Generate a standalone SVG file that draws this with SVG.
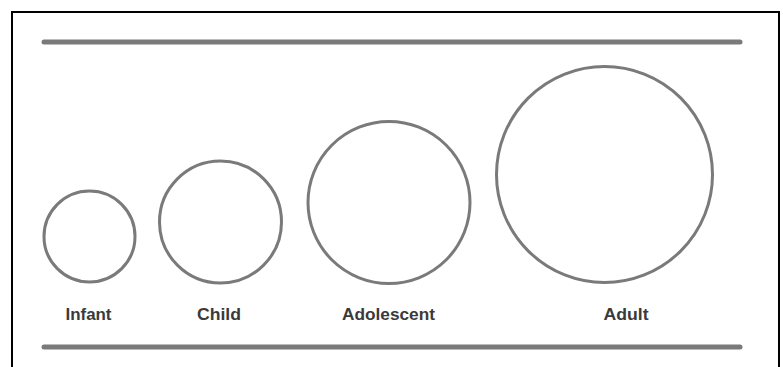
<svg xmlns="http://www.w3.org/2000/svg" width="783" height="367" viewBox="0 0 783 367">
  <style>
    .bar { stroke: #7a7a7a; stroke-width: 5; stroke-linecap: round; }
    .stage { fill: none; stroke: #7a7a7a; stroke-width: 3; }
    .lbl { font-family: "Liberation Sans", Arial, sans-serif; font-size: 17px; fill: #3a3a3a; text-anchor: middle; font-weight: bold; }
  </style>
  <rect x="0" y="0" width="783" height="367" fill="#ffffff"/>
  <rect x="12" y="12" width="767" height="360" fill="#ffffff" stroke="#000000" stroke-width="2"/>
  <g id="rules">
    <line class="bar" x1="44" y1="42" x2="740" y2="42"/>
    <line class="bar" x1="44" y1="347" x2="740" y2="347"/>
  </g>
  <g id="infant">
    <circle class="stage" cx="89.5" cy="236.5" r="45.5"/>
    <text class="lbl" x="88.5" y="320" textLength="46" lengthAdjust="spacingAndGlyphs">Infant</text>
  </g>
  <g id="child">
    <circle class="stage" cx="220.5" cy="222" r="61"/>
    <text class="lbl" x="219" y="320" textLength="44" lengthAdjust="spacingAndGlyphs">Child</text>
  </g>
  <g id="adolescent">
    <circle class="stage" cx="389" cy="202.5" r="81"/>
    <text class="lbl" x="388.5" y="320" textLength="93" lengthAdjust="spacingAndGlyphs">Adolescent</text>
  </g>
  <g id="adult">
    <circle class="stage" cx="604.5" cy="174.5" r="108"/>
    <text class="lbl" x="626" y="320" textLength="45" lengthAdjust="spacingAndGlyphs">Adult</text>
  </g>
  <g id="connectors"/>
</svg>
